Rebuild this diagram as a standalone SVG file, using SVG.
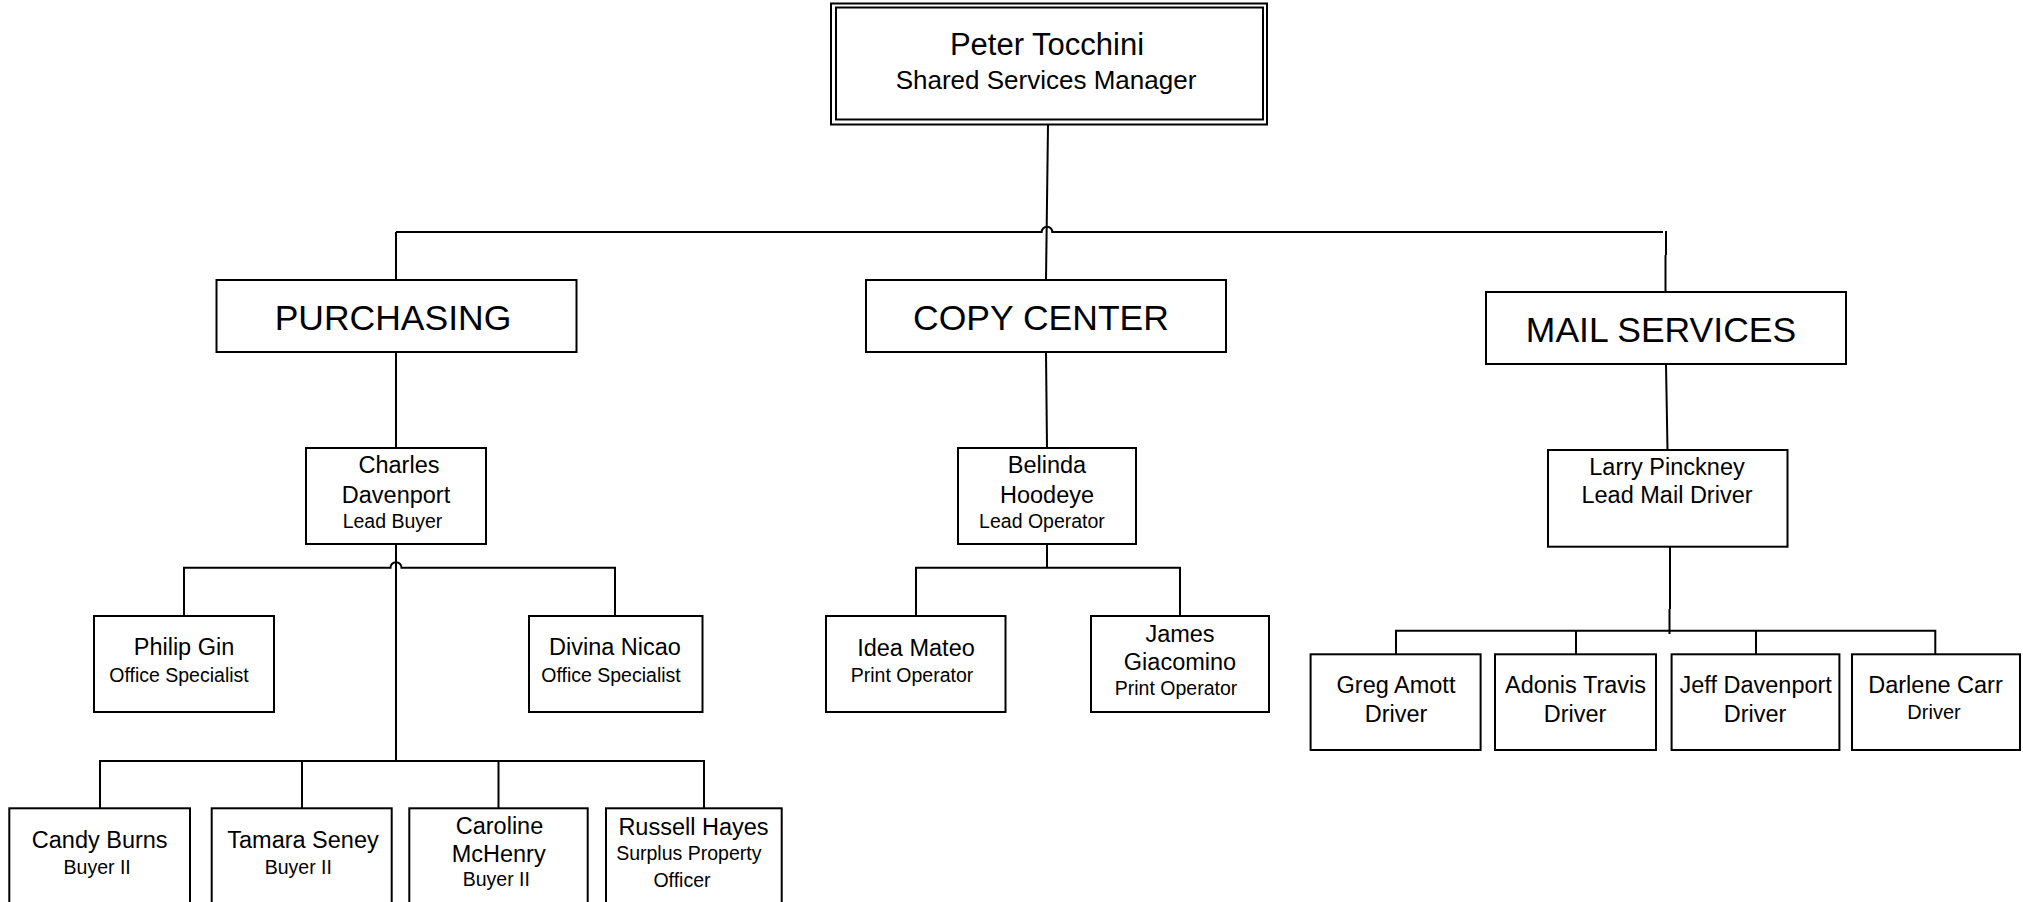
<svg xmlns="http://www.w3.org/2000/svg" width="2023" height="902" viewBox="0 0 2023 902">
<style>
.box{fill:#fff;stroke:#000;stroke-width:2}
.ln{fill:none;stroke:#000;stroke-width:2}
text{font-family:"Liberation Sans",Arial,sans-serif;fill:#000;text-anchor:middle}
.nm{font-size:23.5px}
.tt{font-size:19.5px}
.dept{font-size:35.5px}
</style>
<rect width="2023" height="902" fill="#fff"/>
<g id="connectors">
<path class="ln" d="M1048,125 L1046,280"/>
<path class="ln" d="M396,232 H1041.7 A5.3,5.3 0 0 1 1052.3,232 H1663"/>
<path class="ln" d="M1666,231 V255 M1665.5,255 V292"/>
<path class="ln" d="M396,232 V280"/>
<path class="ln" d="M396,352 V448"/>
<path class="ln" d="M396,544 V761"/>
<path class="ln" d="M184,616 V567.7 H390.5 A5.5,5.5 0 0 1 401.5,567.7 H615 V616"/>
<path class="ln" d="M100,808 V761 H704 V808 M302,761 V808 M498.5,761 V808"/>
<path class="ln" d="M1046,352 L1047,448"/>
<path class="ln" d="M1047,544 V567.7 M916,616 V567.7 H1180 V616"/>
<path class="ln" d="M1666,364 L1667.5,450"/>
<path class="ln" d="M1670,546.7 V609 M1669.5,609 V634"/>
<path class="ln" d="M1396,654.3 V630.7 H1935.3 V654.3 M1576,630.7 V654.3 M1756,630.7 V654.3"/>
</g>
<g id="peter">
<rect class="box" x="831" y="3.5" width="436" height="121"/>
<rect class="box" x="836" y="7.5" width="427" height="112"/>
<text x="1047" y="55" style="font-size:31px">Peter Tocchini</text>
<text x="1046" y="89" style="font-size:26px">Shared Services Manager</text>
</g>
<g id="purchasing">
<rect class="box" x="216.5" y="280" width="360" height="72"/>
<text class="dept" x="393" y="330">PURCHASING</text>
</g>
<g id="copy-center">
<rect class="box" x="866" y="280" width="360" height="72"/>
<text class="dept" x="1041" y="330">COPY CENTER</text>
</g>
<g id="mail-services">
<rect class="box" x="1486" y="292" width="360" height="72"/>
<text class="dept" x="1661" y="342">MAIL SERVICES</text>
</g>
<g id="charles">
<rect class="box" x="306" y="448" width="180" height="96"/>
<text class="nm" x="399" y="473">Charles</text>
<text class="nm" x="396" y="503">Davenport</text>
<text class="tt" x="392.5" y="528">Lead Buyer</text>
</g>
<g id="belinda">
<rect class="box" x="958" y="448" width="178" height="96"/>
<text class="nm" x="1047" y="473">Belinda</text>
<text class="nm" x="1047" y="503">Hoodeye</text>
<text class="tt" x="1042" y="528">Lead Operator</text>
</g>
<g id="larry">
<rect class="box" x="1548" y="450" width="239.5" height="96.7"/>
<text class="nm" x="1667" y="475">Larry Pinckney</text>
<text class="nm" x="1667" y="503">Lead Mail Driver</text>
</g>
<g id="philip">
<rect class="box" x="94" y="616" width="180" height="96"/>
<text class="nm" x="184" y="655">Philip Gin</text>
<text class="tt" x="179" y="682">Office Specialist</text>
</g>
<g id="divina">
<rect class="box" x="529" y="616" width="173.5" height="96"/>
<text class="nm" x="615" y="655">Divina Nicao</text>
<text class="tt" x="611" y="682">Office Specialist</text>
</g>
<g id="idea">
<rect class="box" x="826" y="616" width="179.5" height="96"/>
<text class="nm" x="916" y="656">Idea Mateo</text>
<text class="tt" x="912" y="682">Print Operator</text>
</g>
<g id="james">
<rect class="box" x="1091" y="616" width="178" height="96"/>
<text class="nm" x="1180" y="642">James</text>
<text class="nm" x="1180" y="670">Giacomino</text>
<text class="tt" x="1176" y="695">Print Operator</text>
</g>
<g id="candy">
<rect class="box" x="9.3" y="808.3" width="180.7" height="110"/>
<text class="nm" x="99.7" y="847.7">Candy Burns</text>
<text class="tt" x="97.2" y="874">Buyer II</text>
</g>
<g id="tamara">
<rect class="box" x="211.7" y="808.3" width="180" height="110"/>
<text class="nm" x="303" y="847.7">Tamara Seney</text>
<text class="tt" x="298.3" y="874">Buyer II</text>
</g>
<g id="caroline">
<rect class="box" x="409.3" y="808.3" width="178.4" height="110"/>
<text class="nm" x="499.5" y="834.3">Caroline</text>
<text class="nm" x="498.7" y="861.7">McHenry</text>
<text class="tt" x="496.3" y="885.7">Buyer II</text>
</g>
<g id="russell">
<rect class="box" x="606" y="808.3" width="175.7" height="110"/>
<text class="nm" x="693.5" y="835">Russell Hayes</text>
<text class="tt" x="688.8" y="860">Surplus Property</text>
<text class="tt" x="682" y="886.7">Officer</text>
</g>
<g id="greg">
<rect class="box" x="1310.6" y="654.3" width="170" height="95.7"/>
<text class="nm" x="1396" y="693">Greg Amott</text>
<text class="nm" x="1396" y="722">Driver</text>
</g>
<g id="adonis">
<rect class="box" x="1495" y="654.3" width="161" height="95.7"/>
<text class="nm" x="1575.5" y="693">Adonis Travis</text>
<text class="nm" x="1575" y="722">Driver</text>
</g>
<g id="jeff">
<rect class="box" x="1671.6" y="654.3" width="167.8" height="95.7"/>
<text class="nm" x="1755.7" y="693">Jeff Davenport</text>
<text class="nm" x="1755" y="722">Driver</text>
</g>
<g id="darlene">
<rect class="box" x="1852" y="654.3" width="168" height="95.7"/>
<text class="nm" x="1935.5" y="693">Darlene Carr</text>
<text style="font-size:20px" x="1934" y="719.3">Driver</text>
</g>
</svg>
